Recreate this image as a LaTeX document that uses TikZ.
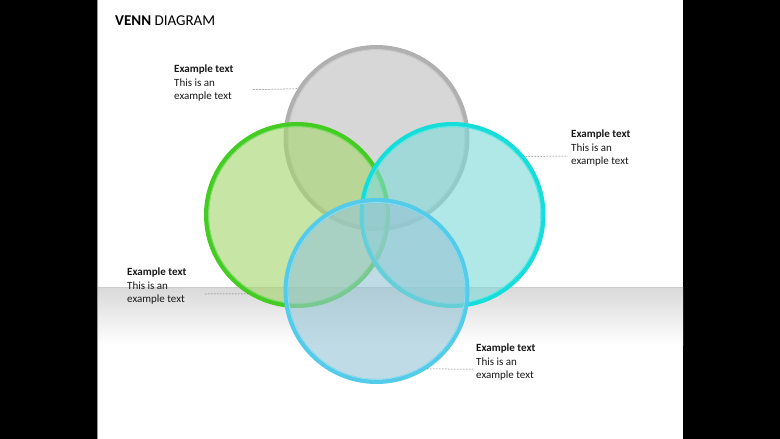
\documentclass[tikz,border=0pt]{standalone}
\usepackage{fontspec}
\setmainfont{Carlito}
\usepackage{xcolor}
\definecolor{ringgray}{HTML}{B0B0B0}
\definecolor{fillgray}{HTML}{C0C0C0}
\definecolor{ringgreen}{HTML}{44CC22}
\definecolor{fillgreen}{HTML}{A6D66E}
\definecolor{ringcyan}{HTML}{14DDDA}
\definecolor{fillcyan}{HTML}{80DAD9}
\definecolor{ringblue}{HTML}{55CBEA}
\definecolor{fillblue}{HTML}{98C6D6}
\newcommand*{\labelstyle}{\fontsize{11}{13.6}\selectfont\color{black!90}}
\newcommand{\venncircle}[6]{%
% name, x, y, radius, fill colour, ring colour
  \pgfmathsetmacro{\cx}{#2}
  \pgfmathsetmacro{\cy}{#3}
  \pgfmathsetmacro{\crad}{#4}
  \fill[#5, fill opacity = 0.62] (\cx,\cy) circle (\crad);
  \node[circle, draw = #6, line width = 5pt, inner sep = 0pt,
    minimum size = 2*\crad pt] (#1) at (\cx,\cy) {};
  \draw[white, opacity = 0.35, line width = 0.8pt] (\cx,\cy) circle (\crad-2);
}

\begin{document}
\begin{tikzpicture}[x = 1pt, y = -1pt]
  \useasboundingbox (0,0) rectangle (780,439);
  \fill[black] (0,0) rectangle (780,439);
  \fill[white] (97,0) rectangle (683,439);
  \shade[top color = black!15, bottom color = white] (97,287) rectangle (683,345);
  \draw[black!20] (97,287) -- (683,287);
  \draw[black!40] (97.5,0) -- (97.5,439);
  \node[anchor = base west, inner sep = 0pt, font = \fontsize{15}{18}\selectfont]
    (title) at (115,26) {\textbf{VENN} DIAGRAM};
  \venncircle{gray}{376.5}{138}{90.5}{fillgray}{ringgray}
  \venncircle{green}{297}{215}{90.5}{fillgreen}{ringgreen}
  \venncircle{cyan}{452.5}{215}{90.5}{fillcyan}{ringcyan}
  \venncircle{blue}{376.5}{291}{90.5}{fillblue}{ringblue}
  \node[anchor = north west, align = left, inner sep = 0pt, font = \labelstyle]
    (textA) at (174,64.5) {\textbf{Example text}\\This is an\\example text};
  \node[anchor = north west, align = left, inner sep = 0pt, font = \labelstyle]
    (textB) at (571,129.5) {\textbf{Example text}\\This is an\\example text};
  \node[anchor = north west, align = left, inner sep = 0pt, font = \labelstyle]
    (textC) at (127,267.5) {\textbf{Example text}\\This is an\\example text};
  \node[anchor = north west, align = left, inner sep = 0pt, font = \labelstyle]
    (textD) at (476,343.5) {\textbf{Example text}\\This is an\\example text};
  \coordinate (endA) at (253,89.6);
  \coordinate (endB) at (568,156);
  \coordinate (endC) at (205,294);
  \coordinate (endD) at (473,369);
  \draw[black!80, line width = 0.5pt, dash pattern = on 0.5pt off 1pt]
    (endA) -- (gray.148.6);
  \draw[black!80, line width = 0.5pt, dash pattern = on 0.5pt off 1pt]
    (cyan.39.4) -- (endB);
  \draw[black!80, line width = 0.5pt, dash pattern = on 0.5pt off 1pt]
    (endC) -- (green.238.2);
  \draw[black!80, line width = 0.5pt, dash pattern = on 0.5pt off 1pt]
    (blue.303) -- (endD);
\end{tikzpicture}
\end{document}
